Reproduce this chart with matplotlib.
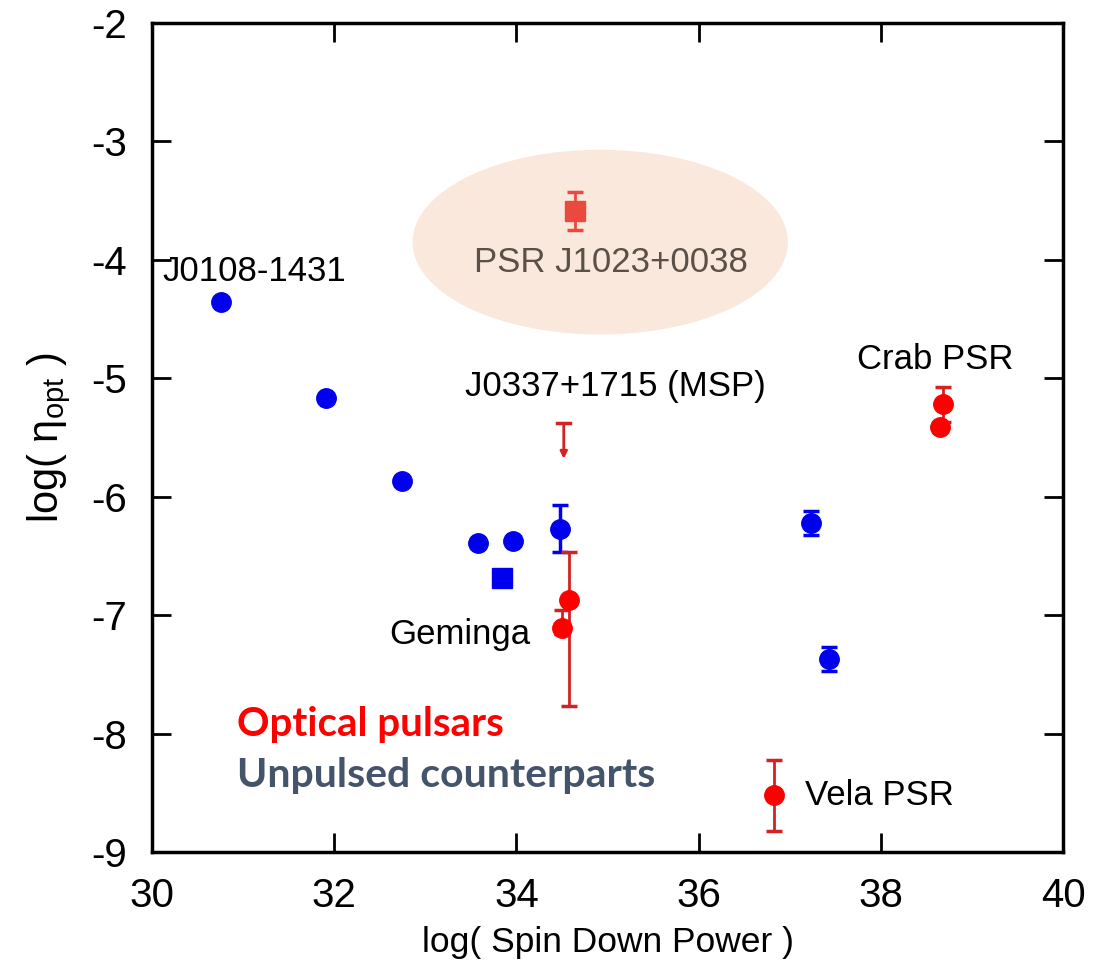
import matplotlib
matplotlib.use("Agg")
import matplotlib.pyplot as plt
from matplotlib.patches import Ellipse

plt.rcParams['font.family'] = ['Liberation Sans', 'DejaVu Sans']
plt.rcParams['axes.unicode_minus'] = False
plt.rcParams['mathtext.fontset'] = 'custom'
plt.rcParams['mathtext.rm'] = 'Liberation Sans'
plt.rcParams['mathtext.it'] = 'Liberation Sans'

# Unpulsed counterparts (blue circles)
blue_x = [30.76, 31.91, 32.74, 33.58, 33.96, 34.48, 37.23, 37.43]
blue_y = [-4.36, -5.17, -5.87, -6.39, -6.37, -6.27, -6.22, -7.37]
blue_err = [0.0, 0.0, 0.0, 0.0, 0.0, 0.20, 0.10, 0.10]

# Unpulsed counterpart (blue square)
bsq_x = [33.84]
bsq_y = [-6.69]

# Optical pulsars (red circles): Geminga (2), Crab (2), Vela
red_x = [34.58, 34.50, 38.68, 38.65, 36.83]
red_y = [-6.87, -7.11, -5.22, -5.41, -8.52]
red_err_lo = [0.90, 0.05, 0.15, 0.0, 0.30]
red_err_hi = [0.40, 0.15, 0.15, 0.0, 0.30]

# J0337+1715 upper limit
ul_x = [34.52]
ul_y = [-5.38]
ul_len = 0.30

# PSR J1023+0038
j1023_x = [34.64]
j1023_y = [-3.59]
j1023_err = [0.16]

fig = plt.figure(figsize=(11.14, 9.77), dpi=100)
ax = fig.add_axes([152/1114, 1 - 852/977, (1063-152)/1114, (852-23)/977])
ax.set_xlim(30, 40)
ax.set_ylim(-9, -2)

# highlight region behind PSR J1023+0038
ax.add_patch(Ellipse((34.92, -3.85), 4.12, 1.56, facecolor='#fbe8dc',
                     edgecolor='none', zorder=0))

ecol_red = '#d42222'
ax.errorbar(blue_x, blue_y, yerr=blue_err, fmt='o', color='#0000ee',
            ecolor='#0000ee', markersize=14, capsize=6, elinewidth=2.5,
            capthick=2.5, zorder=3)
ax.plot(bsq_x, bsq_y, 's', color='#0000ee', markersize=15, zorder=3)
ax.errorbar(red_x, red_y, yerr=[red_err_lo, red_err_hi], fmt='o',
            color='#ff0000', ecolor=ecol_red, markersize=14, capsize=6,
            elinewidth=2, capthick=2.5, zorder=4)
ax.errorbar(j1023_x, j1023_y, yerr=j1023_err, fmt='s', color='#ea4a3e',
            ecolor='#ea4a3e', markersize=14, capsize=6, elinewidth=2,
            capthick=2.5, zorder=4)

# upper limit with downward arrow
ax.plot([ul_x[0] - 0.07, ul_x[0] + 0.07], [ul_y[0], ul_y[0]], color=ecol_red,
        lw=2.5, zorder=4)
ax.annotate('', xy=(ul_x[0], ul_y[0] - ul_len), xytext=(ul_x[0], ul_y[0]),
            arrowprops=dict(arrowstyle='-|>', color=ecol_red, lw=2,
                            mutation_scale=10, shrinkA=0, shrinkB=0),
            zorder=4)

fs_lab = 25
ax.text(30.11, -4.1, 'J0108-1431', fontsize=fs_lab, ha='left', va='center')
ax.text(35.09, -5.07, 'J0337+1715 (MSP)', fontsize=fs_lab, ha='center', va='center')
ax.text(38.6, -4.84, 'Crab PSR', fontsize=fs_lab, ha='center', va='center')
ax.text(34.15, -7.16, 'Geminga', fontsize=fs_lab, ha='right', va='center')
ax.text(37.17, -8.52, 'Vela PSR', fontsize=fs_lab, ha='left', va='center')
ax.text(35.04, -4.02, 'PSR J1023+0038', fontsize=fs_lab, ha='center',
        va='center', color='#5b5048')

ax.text(30.93, -7.92, 'Optical pulsars', fontsize=29, fontweight='bold',
        color='#ff0000', family=['Lato', 'DejaVu Sans'], ha='left', va='center')
ax.text(30.93, -8.35, 'Unpulsed counterparts', fontsize=29.5, fontweight='bold',
        color='#44546a', family=['Lato', 'DejaVu Sans'], ha='left', va='center')

ax.set_xticks([30, 32, 34, 36, 38, 40])
ax.set_yticks([-2, -3, -4, -5, -6, -7, -8, -9])
ax.tick_params(direction='in', length=14, width=2, labelsize=29,
               top=True, right=True, pad=18)
for s in ax.spines.values():
    s.set_linewidth(2.5)

ax.set_xlabel('log( Spin Down Power )', fontsize=25.5, labelpad=8)
ax.set_ylabel(r'log( $\mathregular{\eta_{opt}}$ )', fontsize=30, labelpad=13)

fig.savefig('out.png', dpi=100)
